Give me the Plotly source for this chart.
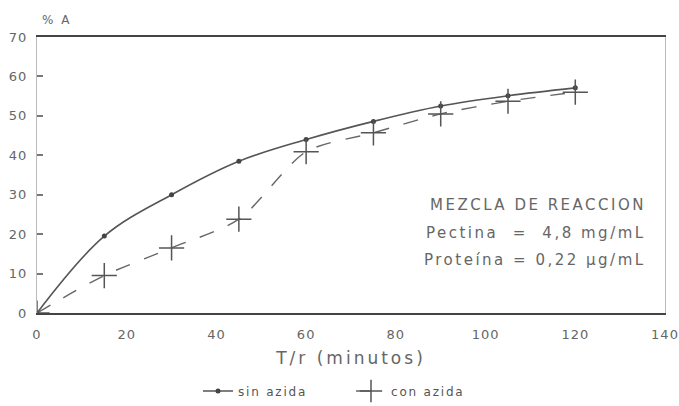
import plotly.graph_objects as go

tiempo = [0, 15, 30, 45, 60, 75, 90, 105, 120]
sin_azida = [0, 19.5, 30, 38.5, 44, 48.6, 52.5, 55.1, 57.1]
con_azida = [0, 9.5, 16.5, 23.8, 40.9, 45.7, 50.5, 53.7, 56.0]
x_ticks = [0, 20, 40, 60, 80, 100, 120, 140]
y_ticks = [0, 10, 20, 30, 40, 50, 60, 70]
nota = ["MEZCLA DE REACCION", "Pectina  =  4,8 mg/mL", "Proteína = 0,22 µg/mL"]
series_names = ["sin azida", "con azida"]
x_title = "T/r (minutos)"
y_title = "% A"

FONT = "DejaVu Sans"
GRAY = "#5a5a5a"


def spaced(t, px):
    return '<span style="letter-spacing:%spx">%s</span>' % (px, t)


fig = go.Figure()
fig.add_trace(go.Scatter(
    x=tiempo, y=sin_azida, name=spaced(series_names[0], 1.8), mode="lines+markers",
    line=dict(color="#555555", width=1.6, shape="spline", smoothing=1.0),
    marker=dict(symbol="circle", size=5, color="#444444"),
))
fig.add_trace(go.Scatter(
    x=tiempo, y=con_azida, name=spaced(series_names[1], 1.8), mode="lines+markers",
    line=dict(color="#666666", width=1.4, dash="longdash", shape="spline", smoothing=0.8),
    marker=dict(symbol="cross-thin-open", size=18, color="#555555",
                line=dict(color="#555555", width=1.5)),
))

ys = [0.391, 0.29, 0.192]
for t, yy in zip(nota, ys):
    fig.add_annotation(xref="paper", yref="paper", x=0.973, y=yy, text=spaced(t, 2.5),
                       showarrow=False, xanchor="right", yanchor="middle",
                       font=dict(family=FONT, size=15, color="#666666"))

fig.add_annotation(xref="paper", yref="paper", x=0.005, y=1.03, text=spaced(y_title, 2),
                   showarrow=False, xanchor="left", yanchor="bottom",
                   font=dict(family=FONT, size=12, color="#666666"))

fig.update_layout(
    width=679, height=406,
    margin=dict(l=37, r=14, t=37, b=93, autoexpand=False),
    paper_bgcolor="white", plot_bgcolor="white",
    font=dict(family=FONT, color=GRAY),
    showlegend=True,
    legend=dict(orientation="h", x=0.5, xanchor="center", y=-0.23, yanchor="top",
                font=dict(family=FONT, size=12, color="#555555"),
                itemwidth=30, entrywidth=108, bgcolor="rgba(0,0,0,0)"),
    xaxis=dict(range=[0, 140], tickvals=x_ticks,
               ticktext=[spaced(str(v), 1) for v in x_ticks],
               showgrid=False, zeroline=False, showline=True, mirror=True,
               linecolor="#444444", linewidth=2, ticks="", automargin=False,
               ticklabelstandoff=8,
               tickfont=dict(family=FONT, size=13, color="#666666"),
               title=dict(text=spaced(x_title, 3), standoff=12,
                          font=dict(family=FONT, size=17, color="#666666"))),
    yaxis=dict(range=[0, 70], tickvals=y_ticks,
               ticktext=[spaced(str(v), 1) for v in y_ticks],
               showgrid=False, zeroline=False, showline=True, mirror=True, automargin=False,
               linecolor="#bbbbbb", linewidth=1, ticks="inside", ticklen=6,
               tickcolor="#777777", tickwidth=1.5, ticklabelstandoff=6,
               tickfont=dict(family=FONT, size=13, color="#666666")),
)

fig.write_html("out.html", config={"displayModeBar": False},
               post_script="document.body.style.margin='0';")
